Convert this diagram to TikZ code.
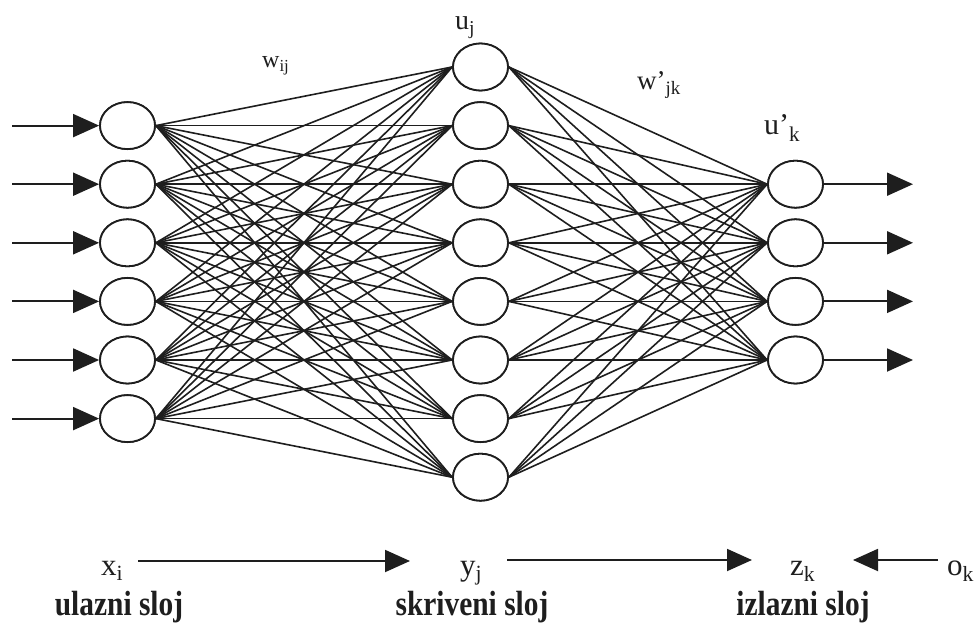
\documentclass[tikz,border=0pt]{standalone}
\usepackage{fontspec}
\setmainfont{Liberation Serif}
\usetikzlibrary{arrows.meta,shapes.geometric}
\definecolor{ink}{HTML}{1E1E1E}
\begin{document}
\begin{tikzpicture}[x=1pt,y=-1pt,
  neuron/.style={ellipse,draw=ink,fill=white,line width=1.8pt,minimum width=55pt,minimum height=47pt,inner sep=0pt},
  conn/.style={draw=ink,line width=1.6pt},
  io/.style={draw=ink,line width=1.9pt,-{Triangle[length=26pt,width=23pt]}},
  lbl/.style={inner sep=0pt,anchor=base west,text=ink},
  layer/.style={inner sep=0pt,anchor=base,text=ink,font=\fontsize{35}{35}\selectfont\bfseries}]
\useasboundingbox (0,0) rectangle (978,623);
% neurons
\foreach \k in {1,...,8} \node[neuron] (h\k) at (480.5,{67+58.6*(\k-1)}) {};
\foreach \k in {1,...,6} \node[neuron] (i\k) at (127.5,{67+58.6*\k}) {};
\foreach \k in {1,...,4} \node[neuron] (o\k) at (795.5,{67+58.6*(\k+1)}) {};
% connections
\foreach \a in {1,...,6} \foreach \b in {1,...,8} \draw[conn] (i\a.east) -- (h\b.west);
\foreach \a in {1,...,8} \foreach \b in {1,...,4} \draw[conn] (h\a.east) -- (o\b.west);
% redraw neurons on top
\foreach \k in {1,...,8} \draw[ink,line width=1.8pt,fill=white] (h\k.center) ellipse [x radius=27.5pt,y radius=23.5pt];
\foreach \k in {1,...,6} \draw[ink,line width=1.8pt,fill=white] (i\k.center) ellipse [x radius=27.5pt,y radius=23.5pt];
\foreach \k in {1,...,4} \draw[ink,line width=1.8pt,fill=white] (o\k.center) ellipse [x radius=27.5pt,y radius=23.5pt];
% input / output arrows
\foreach \k in {1,...,6} {
  \coordinate (in\k) at (12,{67+58.6*\k});
  \draw[io] (in\k) -- (i\k.west);
}
\foreach \k in {1,...,4} {
  \coordinate (out\k) at (913,{67+58.6*(\k+1)});
  \draw[io] (o\k.east) -- (out\k);
}
% weight / unit labels
\node[lbl,font=\fontsize{28}{28}\selectfont] (uj) at (455,30) {u\textsubscript{j}};
\node[lbl,font=\fontsize{24}{24}\selectfont] (wij) at (262,68) {w\textsubscript{ij}};
\node[lbl,font=\fontsize{27}{27}\selectfont] (wjk) at (637,90) {w’\textsubscript{jk}};
\node[lbl,font=\fontsize{30}{30}\selectfont] (uk) at (764,135) {u’\textsubscript{k}};
% bottom labels
\node[lbl,font=\fontsize{31}{31}\selectfont] (xi) at (101,575) {x\textsubscript{i}};
\node[lbl,font=\fontsize{31}{31}\selectfont] (yj) at (460,575) {y\textsubscript{j}};
\node[lbl,font=\fontsize{31}{31}\selectfont] (zk) at (790,575) {z\textsubscript{k}};
\node[lbl,font=\fontsize{31}{31}\selectfont] (ok) at (947,575) {o\textsubscript{k}};
\coordinate (b1s) at (138,561); \coordinate (b1e) at (410,561);
\coordinate (b2s) at (507,560); \coordinate (b2e) at (752,560);
\coordinate (b3s) at (938,560); \coordinate (b3e) at (853,560);
\draw[io,-{Triangle[length=25pt,width=22pt]}] (b1s) -- (b1e);
\draw[io,-{Triangle[length=25pt,width=22pt]}] (b2s) -- (b2e);
\draw[io,-{Triangle[length=25pt,width=22pt]}] (b3s) -- (b3e);
\node[layer] (l1) at (119,615) {\scalebox{0.84}[1]{ulazni sloj}};
\node[layer] (l2) at (472,615) {\scalebox{0.84}[1]{skriveni sloj}};
\node[layer] (l3) at (803,615) {\scalebox{0.84}[1]{izlazni sloj}};
\end{tikzpicture}
\end{document}
